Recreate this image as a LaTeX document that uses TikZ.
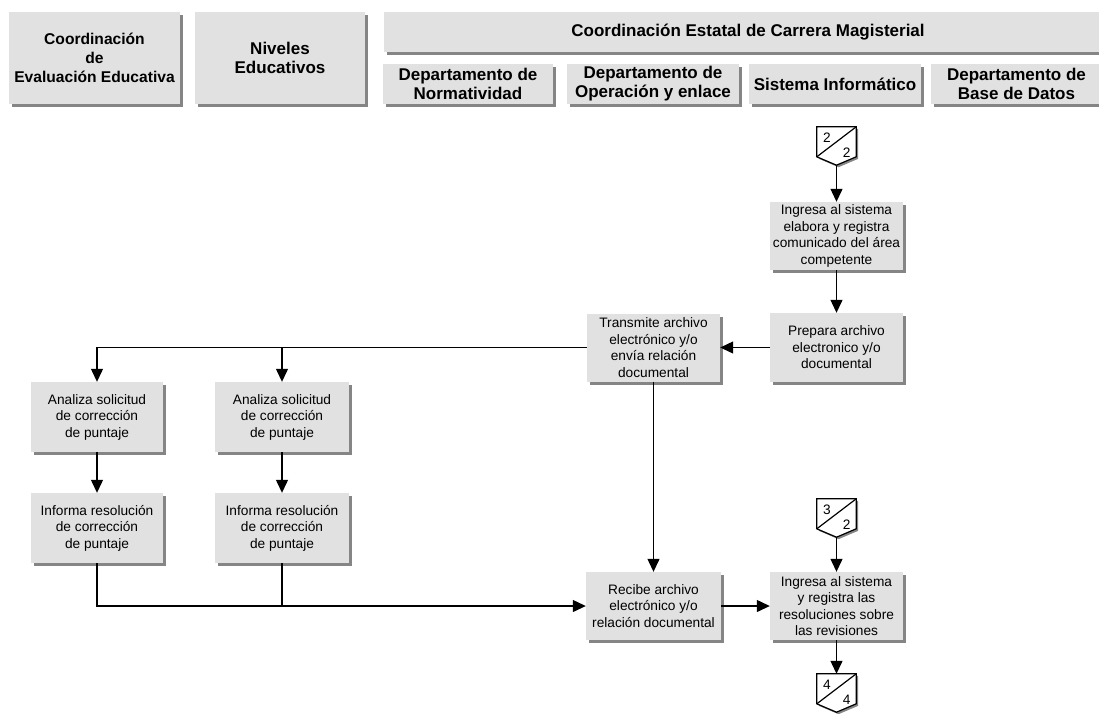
\documentclass[tikz,border=0pt]{standalone}
\usepackage{fontspec}
\setmainfont{Liberation Sans}
\usetikzlibrary{arrows.meta,shadows,calc}
\definecolor{boxfill}{HTML}{E1E1E1}
\definecolor{boxshadow}{HTML}{858585}

% off-page connector: name, centre, upper number, lower number
\newcommand\offpage[4]{%
  \node[offpage] (#1) at #2 {};
  \fill[boxshadow] ($(#1.north west)+(2,2)$) -- ($(#1.north east)+(2,2)$) -- ($(#1.north east)+(2,32)$)
    -- ($(#1.south)+(2,2)$) -- ($(#1.north west)+(2,32)$) -- cycle;
  \draw[line, fill=white] (#1.north west) -- (#1.north east) -- ($(#1.north east)+(0,30)$)
    -- (#1.south) -- ($(#1.north west)+(0,30)$) -- cycle;
  \draw[line] ($(#1.north west)+(0,30)$) -- (#1.north east);
  \node[num] (#1-a) at ($(#1.north west)+(10,10.5)$) {#3};
  \node[num] (#1-b) at ($(#1.north east)+(-9.5,26)$) {#4};
}

\begin{document}
\begin{tikzpicture}[x=1pt,y=-1pt,
  box/.style={fill=boxfill, inner sep=0pt, align=center,
    drop shadow={shadow xshift=3pt,shadow yshift=-3pt,fill=boxshadow,opacity=1},
    font=\fontsize{13.7}{16.5}\selectfont},
  stepbox/.style={box, minimum width=133pt, minimum height=68pt},
  head/.style={box, font=\bfseries\fontsize{17}{19}\selectfont},
  offpage/.style={minimum width=39pt, minimum height=38pt, inner sep=0pt},
  num/.style={inner sep=0pt, font=\fontsize{13.7}{16}\selectfont},
  line/.style={line width=1.2pt},
  flow/.style={line, -{Triangle[width=12pt,length=13pt]}},
]
\useasboundingbox (0,0) rectangle (1099,713);

% header
\node[head, minimum width=171pt, minimum height=92pt, font=\bfseries\fontsize{15.6}{19}\selectfont]
  (h1) at (94.5,58) {Coordinación\\de\\Evaluación Educativa};
\node[head, minimum width=170pt, minimum height=92pt] (h2) at (280,58) {Niveles\\Educativos};
\node[head, minimum width=728pt, minimum height=40pt] (h3) at (748,32) {Coordinación Estatal de Carrera Magisterial};
\node[head, minimum width=170pt, minimum height=40pt] (s1) at (468,84) {Departamento de\\Normatividad};
\node[head, minimum width=172pt, minimum height=40pt] (s2) at (653,84) {Departamento de\\Operación y enlace};
\node[head, minimum width=172pt, minimum height=40pt] (s3) at (835,84) {Sistema Informático};
\node[head, minimum width=171pt, minimum height=40pt] (s4) at (1016.5,84) {Departamento de\\Base de Datos};

% process steps
\node[stepbox] (a) at (836.5,236) {Ingresa al sistema\\elabora y registra\\comunicado del área\\competente};
\node[stepbox, minimum height=69pt] (b) at (836.5,347.5) {Prepara archivo\\electronico y/o\\documental};
\node[stepbox] (c) at (653.5,347.5) {Transmite archivo\\electrónico y/o\\envía relación\\documental};
\node[stepbox, minimum width=132pt, minimum height=70pt] (d1) at (97,417) {Analiza solicitud\\de corrección\\de puntaje};
\node[stepbox, minimum width=134pt, minimum height=70pt] (d2) at (282,417) {Analiza solicitud\\de corrección\\de puntaje};
\node[stepbox, minimum width=132pt, minimum height=70pt] (e1) at (97,528) {Informa resolución\\de corrección\\de puntaje};
\node[stepbox, minimum width=134pt, minimum height=70pt] (e2) at (282,528) {Informa resolución\\de corrección\\de puntaje};
\node[stepbox, minimum width=135pt] (f) at (653.5,606) {Recibe archivo\\electrónico y/o\\relación documental};
\node[stepbox] (g) at (836.5,606) {Ingresa al sistema\\y registra las\\resoluciones sobre\\las revisiones};

% off-page connectors
\offpage{p2}{(836.5,146)}{2}{2}
\offpage{p3}{(836.5,518)}{3}{2}
\offpage{p4}{(836.5,693)}{4}{4}

% connectors
\draw[flow] (p2.south) -- (a.north);
\draw[flow] (a.south) -- (b.north);
\draw[flow] (b.west) -- (c.east);
\draw[flow] (c.west) -| (d1.north);
\draw[flow] (d2.north |- c.west) -- (d2.north);
\draw[flow] (d1.south) -- (e1.north);
\draw[flow] (d2.south) -- (e2.north);
\draw[flow] (e1.south) |- (f.west);
\draw[line] (e2.south) -- (e2.south |- f.west);
\draw[flow] (c.south) -- (f.north);
\draw[flow] (f.east) -- (g.west);
\draw[flow] (p3.south) -- (g.north);
\draw[flow] (g.south) -- (p4.north);
\end{tikzpicture}
\end{document}
